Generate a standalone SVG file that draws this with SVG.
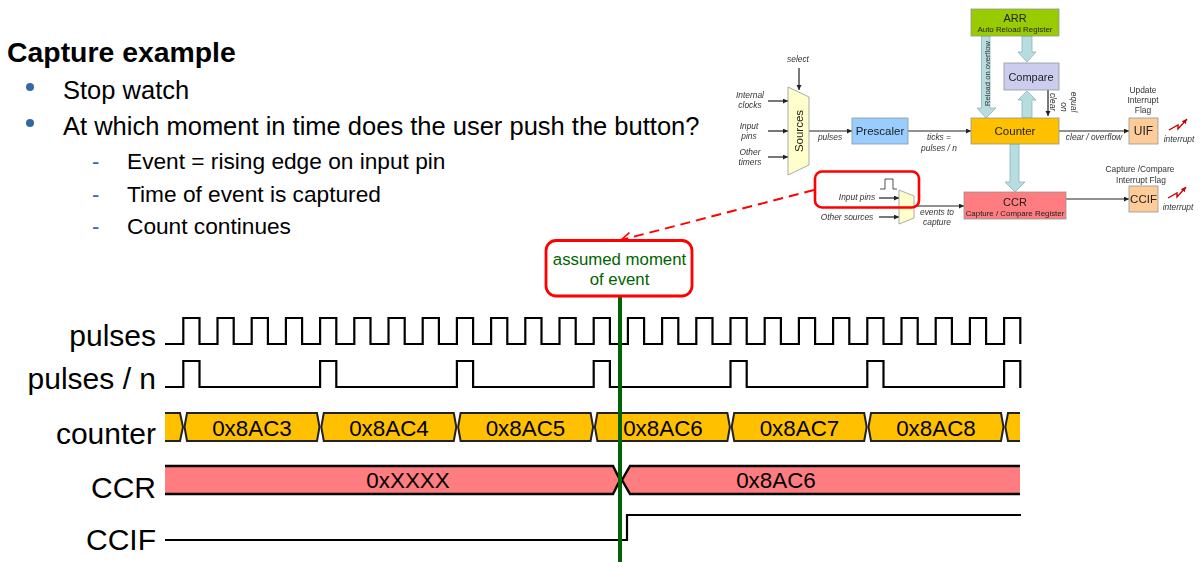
<svg xmlns="http://www.w3.org/2000/svg" width="1204" height="568" viewBox="0 0 1204 568">
<style>
text{font-family:"Liberation Sans",Arial,sans-serif;fill:#000}
.h{font-size:28.4px;font-weight:bold}
.l1{font-size:25.5px}
.l2{font-size:22.7px}
.dash{fill:#2f6aa5;font-size:22px}
.sig{font-size:30px;text-anchor:end}
.val{font-size:22.4px;text-anchor:middle}
.wave{fill:none;stroke:#000;stroke-width:2.2}
.hexc{fill:#ffc000;stroke:#222;stroke-width:2}
.hexr{fill:#ff7c80;stroke:none}
.edge{stroke:#000;stroke-width:2.4;fill:none}
.call{font-size:16.8px;text-anchor:middle;fill:#006400}
.box{stroke:#8a9a9a;stroke-width:.8}
.t{font-size:11.5px;text-anchor:middle;fill:#222}
.ts{font-size:7.9px;text-anchor:middle;fill:#222}
.i{font-size:8.4px;font-style:italic;text-anchor:middle;fill:#333}
.n{font-size:8.4px;text-anchor:middle;fill:#333}
.ln{stroke:#222;stroke-width:1.2;fill:none;marker-end:url(#a)}
.blk{fill:#b7dde0;stroke:#8fb4b8;stroke-width:.8}
.zig{fill:none;stroke:#c00;stroke-width:1.4;marker-end:url(#z)}
</style>
<defs>
<marker id="a" markerWidth="6" markerHeight="6" refX="5" refY="2.5" orient="auto" markerUnits="userSpaceOnUse"><path d="M0 0L5 2.5L0 5Z" fill="#222"/></marker>
<marker id="z" markerWidth="6" markerHeight="6" refX="5" refY="2.5" orient="auto" markerUnits="userSpaceOnUse"><path d="M0 0L5 2.5L0 5Z" fill="#c00"/></marker>
<marker id="r" markerWidth="14" markerHeight="12" refX="11" refY="6" orient="auto" markerUnits="userSpaceOnUse"><path d="M1 1L11 6L1 11" fill="none" stroke="#f00" stroke-width="1.6"/></marker>
<path id="hx" class="hexc" d="M0 14L2.5 0H132.5L135 14L132.5 28H2.5Z"/>
<filter id="soft" x="-2%" y="-2%" width="104%" height="104%"><feGaussianBlur stdDeviation="0.35"/></filter>
</defs>

<g id="heading">
<text class="h" x="7" y="62">Capture example</text>
<circle cx="30" cy="87" r="4" fill="#2f6aa5"/>
<circle cx="30" cy="123" r="4" fill="#2f6aa5"/>
<text class="l1" x="63" y="99">Stop watch</text>
<text class="l1" x="63" y="135">At which moment in time does the user push the button?</text>
<text class="dash" x="92" y="169">-</text>
<text class="dash" x="92" y="202">-</text>
<text class="dash" x="92" y="234">-</text>
<text class="l2" x="127" y="169">Event = rising edge on input pin</text>
<text class="l2" x="127" y="202">Time of event is captured</text>
<text class="l2" x="127" y="234">Count continues</text>
</g>

<g id="inset" filter="url(#soft)">
<g id="connectors">
<path class="ln" d="M799 68V90"/>
<path class="ln" d="M768 101H788"/>
<path class="ln" d="M768 131H788"/>
<path class="ln" d="M768 157H788"/>
<path class="ln" d="M809 131H852"/>
<path class="ln" d="M908 131H971"/>
<path class="ln" d="M1059 131H1129"/>
<path class="ln" d="M1048 90V116"/>
<path class="ln" d="M879 198H899"/>
<path class="ln" d="M879 217H899"/>
<path class="ln" d="M914 206H964"/>
<path class="ln" d="M1066 199H1129"/>
<path class="blk" d="M981.5 36H990V108H996L986 118L977 108H981.5Z"/>
<path class="blk" d="M1022 36H1032V52H1036L1027 62L1018 52H1022Z"/>
<path class="blk" d="M1022 118V100H1018L1027 91L1036 100H1032V118Z"/>
<path class="blk" d="M1010 144H1019V182H1025L1015 192L1005 182H1010Z"/>
<path d="M880 189H885V179H893V189H897" fill="none" stroke="#222" stroke-width=".8"/>
<path class="zig" d="M1169 130L1178 125L1178 129L1187 119"/>
<path class="zig" d="M1168 198L1177 193L1177 197L1186 187"/>
</g>
<g id="arr"><rect class="box" x="971" y="9" width="88" height="27" fill="#99cc00"/><text class="t" x="1015" y="22" style="font-size:11px">ARR</text><text class="ts" x="1015" y="32">Auto Reload Register</text></g>
<g id="compare"><rect class="box" x="1004" y="63" width="55" height="27" fill="#ccccee"/><text class="t" x="1031" y="81" style="font-size:11px">Compare</text></g>
<g id="counter"><rect class="box" x="971" y="118" width="88" height="26" fill="#ffc000"/><text class="t" x="1015" y="135">Counter</text></g>
<g id="prescaler"><rect class="box" x="852" y="118" width="56" height="26" fill="#99ccff"/><text class="t" x="880" y="135">Prescaler</text></g>
<g id="uif"><rect class="box" x="1129" y="118" width="29" height="26" fill="#ffcc99"/><text class="t" x="1143.500" y="135" style="font-size:12px">UIF</text></g>
<g id="ccif"><rect class="box" x="1129" y="186" width="29" height="26" fill="#ffcc99"/><text class="t" x="1143.500" y="203">CCIF</text></g>
<g id="ccr"><rect class="box" x="964" y="192" width="102" height="27" fill="#ff7c80"/><text class="t" x="1015" y="206" style="font-size:11px">CCR</text><text class="ts" x="1015" y="216">Capture / Compare Register</text></g>
<g id="sources"><path class="box" d="M788 87L809 97V165L788 175Z" fill="#ffffcc"/><text class="t" transform="translate(803 131) rotate(-90)">Sources</text></g>
<g id="mux"><path class="box" d="M899 190L914 196V218L899 224Z" fill="#ffffcc"/></g>
<g id="inset-labels">
<text class="i" x="798" y="62">select</text>
<text class="i" x="750" y="98">Internal</text><text class="i" x="750" y="108">clocks</text>
<text class="i" x="749" y="129">Input</text><text class="i" x="749" y="139">pins</text>
<text class="i" x="750" y="155">Other</text><text class="i" x="750" y="165">timers</text>
<text class="i" x="830" y="140">pulses</text>
<text class="i" x="939" y="140">ticks =</text><text class="i" x="939" y="151">pulses / n</text>
<text class="i" x="1094" y="140">clear / overflow</text>
<text class="i" transform="translate(1050 102) rotate(90)">clear</text>
<text class="i" transform="translate(1061 107) rotate(90)">on</text>
<text class="i" transform="translate(1071 102) rotate(90)">equal</text>
<text class="n" transform="translate(990 73.500) rotate(-90)" style="font-size:7.600px">Reload on overflow</text>
<text class="n" x="1143" y="93">Update</text><text class="n" x="1143" y="103">Interrupt</text><text class="n" x="1143" y="113">Flag</text>
<text class="i" x="1179" y="142">interrupt</text>
<text class="n" x="1140" y="172">Capture /Compare</text><text class="n" x="1141" y="183">Interrupt Flag</text>
<text class="i" x="1178" y="210">interrupt</text>
<text class="i" x="857" y="200">Input pins</text>
<text class="i" x="847" y="220">Other sources</text>
<text class="i" x="937" y="215">events to</text><text class="i" x="937" y="225">capture</text>
</g>
</g>

<g id="event-link">
<rect x="815" y="171.500" width="104" height="36" rx="7" fill="none" stroke="#f00" stroke-width="2.600"/>
<path d="M814 190L621 240" fill="none" stroke="#f00" stroke-width="2" stroke-dasharray="10 6" marker-end="url(#r)"/>
</g>

<g id="signal-labels">
<text class="sig" x="156" y="346">pulses</text>
<text class="sig" x="156" y="389">pulses / n</text>
<text class="sig" x="156" y="444">counter</text>
<text class="sig" x="156" y="498">CCR</text>
<text class="sig" x="156" y="550">CCIF</text>
</g>

<g id="waveforms">
<path id="wave-pulses" class="wave" d="M165 344H183.300V318h16.200V344h18V318h16.200V344h18V318h16.200V344h18V318h16.200V344h18V318h16.200V344h18V318h16.200V344h18V318h16.200V344h18V318h16.200V344h18V318h16.200V344h18V318h16.200V344h18V318h16.200V344h18V318h16.200V344h18V318h16.200V344h18V318h16.200V344h18V318h16.200V344h18V318h16.200V344h18V318h16.200V344h18V318h16.200V344h18V318h16.200V344h18V318h16.200V344h18V318h16.200V344h18V318h16.200V344h18V318h16.200V344h18V318h16.200V344h18V318h16.200V344"/>
<path id="wave-div" class="wave" d="M165 387H183.300V361H199.500V387H320.100V361H336.300V387H456.900V361H473.100V387H593.700V361H609.900V387H730.500V361H746.700V387H867.300V361H883.500V387H1004.100V361H1020.300V388"/>
<g id="wave-counter">
<path class="hexc" d="M165 413H180L183 427L180 441H165"/>
<use href="#hx" x="184.500" y="413"/>
<use href="#hx" x="321.300" y="413"/>
<use href="#hx" x="458.100" y="413"/>
<use href="#hx" x="594.900" y="413"/>
<use href="#hx" x="731.700" y="413"/>
<use href="#hx" x="868.500" y="413"/>
<path class="hexc" d="M1020 413H1008L1005.300 427L1008 441H1020"/>
<text class="val" x="252" y="436">0x8AC3</text>
<text class="val" x="389" y="436">0x8AC4</text>
<text class="val" x="525.500" y="436">0x8AC5</text>
<text class="val" x="663" y="436">0x8AC6</text>
<text class="val" x="799.500" y="436">0x8AC7</text>
<text class="val" x="936" y="436">0x8AC8</text>
</g>
<g id="wave-ccr">
<path class="hexr" d="M165 466H613L620 480L613 494H165Z"/>
<path class="hexr" d="M1020 466H630L622 480L630 494H1020Z"/>
<path class="edge" d="M165 466H613L620 480L613 494H165"/>
<path class="edge" d="M1020 466H630L622 480L630 494H1020"/>
<text class="val" x="408" y="488">0xXXXX</text>
<text class="val" x="776" y="488">0x8AC6</text>
</g>
<path id="wave-ccif" class="wave" d="M165 540H627V515H1021"/>
</g>

<g id="event-marker">
<path d="M620 296V562" stroke="#006400" stroke-width="4" fill="none"/>
<rect x="546" y="240.500" width="146" height="55.500" rx="10" fill="#fff" stroke="#f00" stroke-width="2.800"/>
<text class="call" x="619.500" y="265">assumed moment</text>
<text class="call" x="619.500" y="285">of event</text>
</g>
</svg>
